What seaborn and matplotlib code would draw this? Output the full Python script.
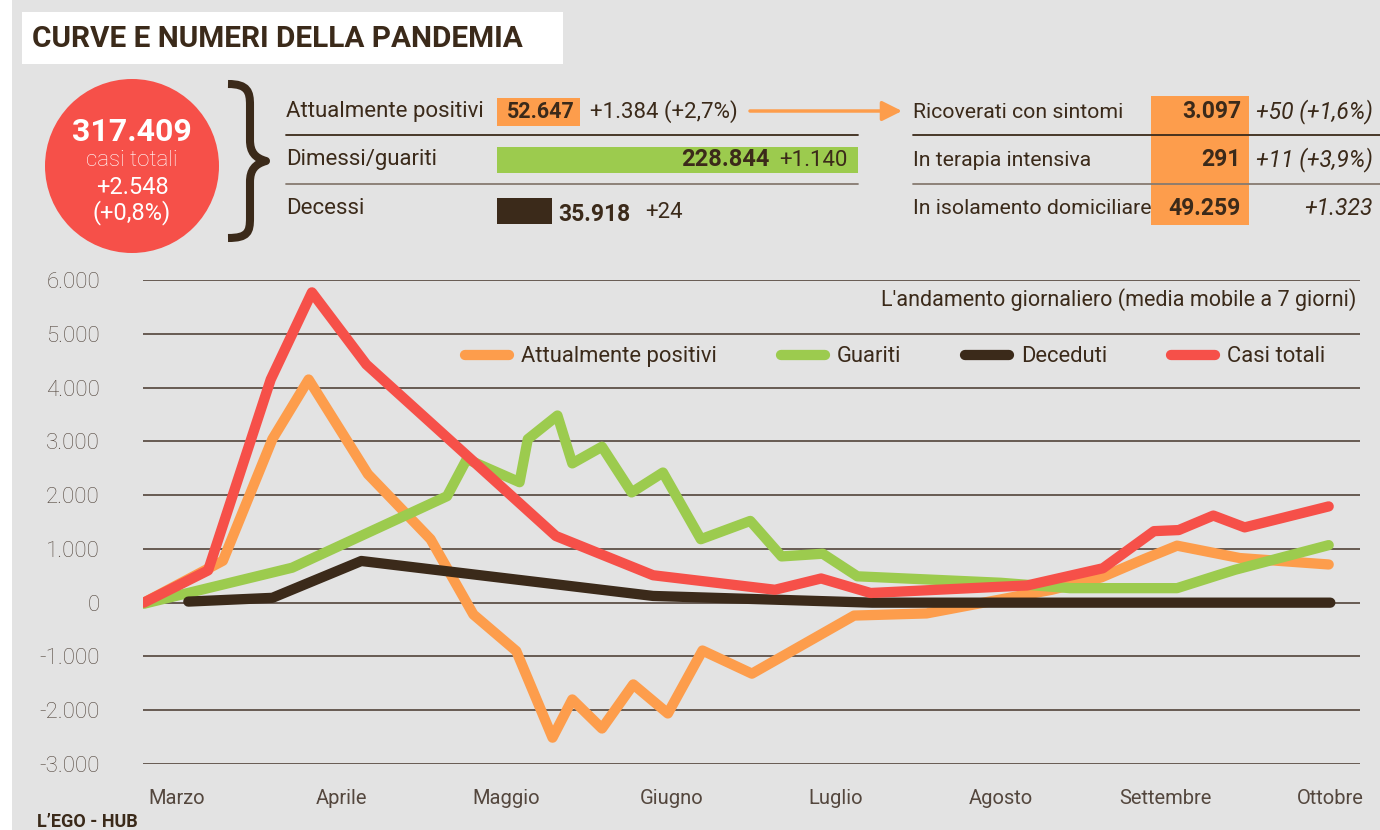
import matplotlib
matplotlib.use("Agg")
import matplotlib.pyplot as plt
import matplotlib.patches as mpatches
from matplotlib.lines import Line2D
from matplotlib.path import Path
from matplotlib.ticker import FuncFormatter
import numpy as np
import pandas as pd
import seaborn as sns

# --- data (x = months since 1 March, y = daily value, 7-day moving average)
mesi = ["Marzo", "Aprile", "Maggio", "Giugno", "Luglio", "Agosto", "Settembre", "Ottobre"]

positivi_x = [-0.20, 0.28, 0.58, 0.80, 1.16, 1.54, 1.80, 2.06, 2.28, 2.40, 2.58, 2.77,
              2.98, 3.19, 3.49, 4.11, 4.55, 5.31, 5.61, 5.87, 6.07, 6.45, 6.99]
positivi_y = [0, 780, 3040, 4150, 2390, 1180, -220, -900, -2510, -1800, -2340, -1520,
              -2060, -890, -1320, -240, -200, 240, 470, 810, 1060, 830, 710]

guariti_x = [-0.20, 0.70, 1.64, 1.76, 2.08, 2.13, 2.31, 2.40, 2.58, 2.76, 2.95, 3.18,
             3.48, 3.67, 3.92, 4.13, 5.00, 5.42, 6.07, 6.42, 6.99]
guariti_y = [-20, 650, 1980, 2670, 2240, 3040, 3480, 2590, 2900, 2050, 2420, 1180,
             1520, 860, 910, 490, 370, 270, 270, 610, 1070]

deceduti_x = [0.07, 0.58, 1.12, 2.89, 4.22, 7.00]
deceduti_y = [20, 90, 775, 125, 0, 0]

casi_x = [-0.20, 0.19, 0.57, 0.82, 1.15, 2.30, 2.89, 3.63, 3.91, 4.21, 5.16, 5.62,
          5.93, 6.08, 6.29, 6.48, 6.99]
casi_y = [0, 600, 4150, 5770, 4430, 1240, 510, 240, 450, 180, 320, 640,
          1330, 1350, 1620, 1400, 1790]

serie = ["Attualmente positivi", "Guariti", "Deceduti", "Casi totali"]

# header figures
riepilogo = [("Attualmente positivi", "52.647", "+1.384 (+2,7%)"),
             ("Dimessi/guariti", "228.844", "+1.140"),
             ("Decessi", "35.918", "+24")]
ospedali = [("Ricoverati con sintomi", "3.097", "+50 (+1,6%)"),
            ("In terapia intensiva", "291", "+11 (+3,9%)"),
            ("In isolamento domiciliare", "49.259", "+1.323")]

ORANGE = "#fd9d4c"
GREEN = "#9ccb4e"
DARK = "#3b2a1a"
RED = "#f65049"
BG = "#e3e3e3"
GRID = "#5e5047"
SOFT = "#54473e"

sns.set_style("white")
plt.rcParams["font.family"] = ["Roboto", "DejaVu Sans"]

df = pd.concat([
    pd.DataFrame({"mese": positivi_x, "valore": positivi_y, "serie": serie[0]}),
    pd.DataFrame({"mese": guariti_x, "valore": guariti_y, "serie": serie[1]}),
    pd.DataFrame({"mese": deceduti_x, "valore": deceduti_y, "serie": serie[2]}),
    pd.DataFrame({"mese": casi_x, "valore": casi_y, "serie": serie[3]}),
], ignore_index=True)
palette = dict(zip(serie, [ORANGE, GREEN, DARK, RED]))

fig = plt.figure(figsize=(13.8, 8.3), dpi=100)
fig.patch.set_facecolor(BG)

# overlay in pixel coordinates for the header
bg = fig.add_axes([0, 0, 1, 1])
bg.set_xlim(0, 1380)
bg.set_ylim(830, 0)
bg.axis("off")

bg.add_patch(mpatches.Rectangle((0, 0), 12, 830, color="white", lw=0))
bg.add_patch(mpatches.Rectangle((22, 12), 541, 52, color="white", lw=0))
bg.text(32, 39, "CURVE E NUMERI DELLA PANDEMIA", fontsize=21.4, fontweight="bold",
        color=DARK, va="center", ha="left")

# red circle
bg.add_patch(mpatches.Circle((132, 166), 87, color=RED, lw=0))
bg.text(132, 132, "317.409", fontweight="bold", fontsize=23, color="white",
        ha="center", va="center")
bg.text(132, 161, "casi totali", fontsize=16, fontweight="light", color="white",
        ha="center", va="center")
bg.text(132, 187, "+2.548", fontsize=17, color="white", ha="center", va="center")
bg.text(132, 213, "(+0,8%)", fontsize=17, color="white", ha="center", va="center")

# brace
verts = [(228, 84), (248, 84), (250, 92), (250, 105),
         (250, 140),
         (250, 152), (255, 158), (266, 161),
         (255, 164), (250, 170), (250, 182),
         (250, 218),
         (250, 232), (248, 238), (228, 238)]
codes = [Path.MOVETO, Path.CURVE4, Path.CURVE4, Path.CURVE4,
         Path.LINETO,
         Path.CURVE4, Path.CURVE4, Path.CURVE4,
         Path.CURVE4, Path.CURVE4, Path.CURVE4,
         Path.LINETO,
         Path.CURVE4, Path.CURVE4, Path.CURVE4]
bg.add_patch(mpatches.PathPatch(Path(verts, codes), fill=False, lw=5.8, color=DARK,
                                capstyle="butt", joinstyle="round"))

# left summary table
righe_y = [112, 160, 208]
for (lab, num, var), y in zip(riepilogo, righe_y):
    bg.text(286, y, lab, fontsize=16, color=DARK, va="center")
bg.add_patch(mpatches.Rectangle((497, 98), 83, 28, color=ORANGE, lw=0))
bg.text(541, 112, riepilogo[0][1], fontweight="bold", fontsize=15.5,
        color=DARK, ha="center", va="center")
bg.text(590, 112, riepilogo[0][2], fontsize=16, color=DARK, va="center")
bg.add_patch(mpatches.Rectangle((497, 147), 361, 26, color=GREEN, lw=0))
bg.text(770, 160, riepilogo[1][1], fontweight="bold", fontsize=17,
        color=DARK, ha="right", va="center")
bg.text(779, 160, riepilogo[1][2], fontsize=16, color=DARK, va="center")
bg.add_patch(mpatches.Rectangle((497, 198), 55, 26, color=DARK, lw=0))
bg.text(558, 214, riepilogo[2][1], fontweight="bold", fontsize=16.5,
        color=DARK, ha="left", va="center")
bg.text(645, 212, riepilogo[2][2], fontsize=16, color=DARK, va="center")
bg.plot([286, 858], [135, 135], color=DARK, lw=1.3)
bg.plot([286, 858], [184, 184], color="#867a70", lw=1.3)

bg.annotate("", xy=(902, 111), xytext=(750, 111),
            arrowprops=dict(arrowstyle="-|>,head_length=1.2,head_width=0.6",
                            color=ORANGE, lw=2.5, shrinkA=0, shrinkB=0))

# right table
bg.add_patch(mpatches.Rectangle((1151, 96), 98, 129, color=ORANGE, lw=0))
for (lab, num, var), y in zip(ospedali, righe_y):
    bg.text(913, y, lab, fontsize=15.3, color=DARK, va="center")
    bg.text(1241, y, num, fontweight="bold", fontsize=16.5, color=DARK,
            ha="right", va="center")
    bg.text(1373, y, var, fontsize=16.5, fontstyle="italic", color=DARK, ha="right", va="center")
bg.plot([913, 1380], [135, 135], color=DARK, lw=1.3)
bg.plot([913, 1380], [184, 184], color="#867a70", lw=1.3)

bg.text(37, 822, "L\u2019EGO - HUB", fontweight="bold", fontsize=13,
        color=DARK, va="center")

# chart
ax = fig.add_axes([143 / 1380, 1 - 764 / 830, 1217 / 1380, 484 / 830])
ax.set_facecolor("none")
sns.lineplot(data=df, x="mese", y="valore", hue="serie", hue_order=serie, palette=palette,
             sort=False, estimator=None, lw=7.4, legend=False, ax=ax,
             solid_capstyle="round", solid_joinstyle="round")
for i, line in enumerate(ax.get_lines()):
    line.set_zorder(3 + i)

ax.set_xlim(-0.205, 7.18)
ax.set_ylim(-3000, 6000)
ax.set_yticks(np.arange(-3000, 6001, 1000))
ax.yaxis.set_major_formatter(FuncFormatter(lambda v, p: f"{v:,.0f}".replace(",", ".")))
ax.set_xticks(range(len(mesi)))
ax.set_xticklabels(mesi)
ax.set_xlabel("")
ax.set_ylabel("")
for s in ax.spines.values():
    s.set_visible(False)
ax.grid(axis="y", color=GRID, lw=1.3, zorder=1)
ax.grid(axis="x", visible=False)
ax.set_axisbelow(True)
ax.tick_params(axis="y", length=0, pad=31, labelsize=16, labelcolor=SOFT)
ax.tick_params(axis="x", length=14, width=1.3, color="#867a70", pad=4, labelsize=14.5,
               labelcolor=SOFT, direction="out")
for t in ax.get_yticklabels():
    t.set_fontweight("light")

ax.text(0.9967, 0.959, "L'andamento giornaliero (media mobile a 7 giorni)", transform=ax.transAxes,
        ha="right", va="center", fontsize=15.5, color=DARK)

handles = [Line2D([], [], color=palette[s], lw=7.4, solid_capstyle="round") for s in serie]
ax.legend(handles, serie, ncol=4, frameon=False, loc="center right",
          bbox_to_anchor=((1336 - 143) / 1217, 0.841), fontsize=15.8, labelcolor=DARK,
          handlelength=2.0, handletextpad=0.55, columnspacing=2.9, borderpad=0)

fig.savefig("out.png", dpi=100, facecolor=BG)
